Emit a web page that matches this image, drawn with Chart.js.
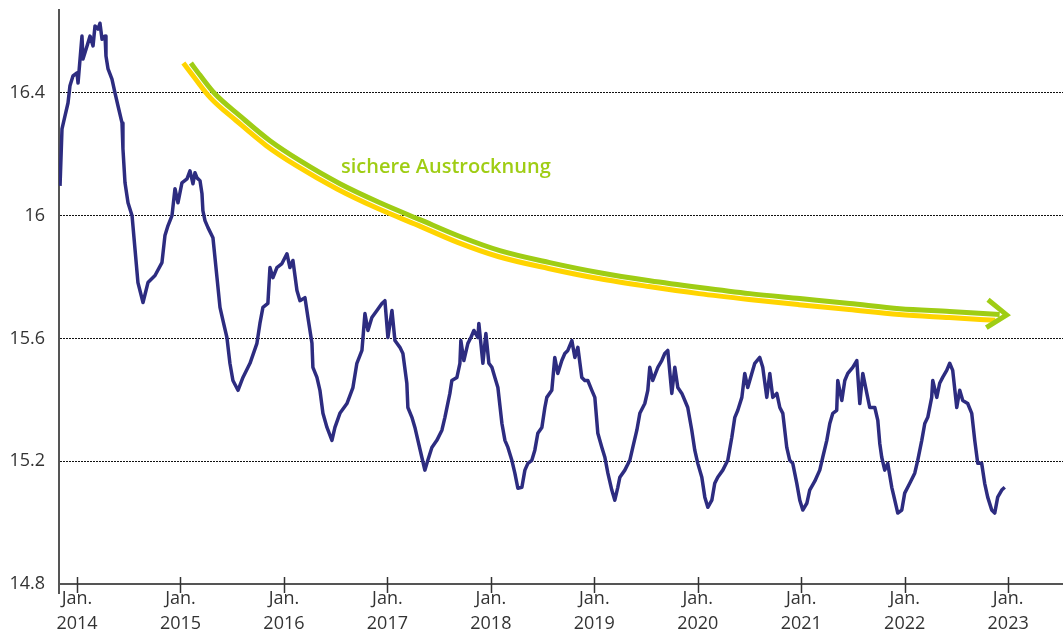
<!DOCTYPE html>
<html lang="de">
<head>
<meta charset="utf-8">
<title>Austrocknung</title>
<script src="https://cdn.jsdelivr.net/npm/chart.js@4"></script>
<style>
    html, body { margin: 0; padding: 0; background: #fff; }
    #wrap { width: 1063px; height: 642px; }
</style>
</head>
<body>
<div id="wrap"><canvas id="levelChart" width="1063" height="642"></canvas></div>
<script>
// x axis: decimal years
const xMin = 2013.826;
const xMax = 2023.53;
const yearTicks = [2014, 2015, 2016, 2017, 2018, 2019, 2020, 2021, 2022, 2023];
const yTicks = [14.8, 15.2, 15.6, 16, 16.4];

const levelYears = [
    2013.836, 2013.855, 2013.884, 2013.913, 2013.932, 2013.961, 2014.000, 2014.010, 2014.048, 2014.058,
    2014.097, 2014.126, 2014.155, 2014.174, 2014.203, 2014.222, 2014.242, 2014.271, 2014.280, 2014.300,
    2014.338, 2014.367, 2014.396, 2014.435, 2014.444, 2014.464, 2014.493, 2014.532, 2014.560, 2014.589,
    2014.638, 2014.686, 2014.754, 2014.821, 2014.850, 2014.879, 2014.918, 2014.947, 2014.976, 2015.014,
    2015.063, 2015.092, 2015.121, 2015.140, 2015.160, 2015.189, 2015.208, 2015.217, 2015.237, 2015.266,
    2015.314, 2015.353, 2015.382, 2015.411, 2015.449, 2015.478, 2015.507, 2015.556, 2015.604, 2015.672,
    2015.739, 2015.768, 2015.797, 2015.845, 2015.865, 2015.894, 2015.932, 2015.981, 2016.029, 2016.058,
    2016.087, 2016.126, 2016.155, 2016.203, 2016.232, 2016.271, 2016.280, 2016.319, 2016.348, 2016.377,
    2016.416, 2016.464, 2016.493, 2016.541, 2016.609, 2016.667, 2016.705, 2016.754, 2016.783, 2016.812,
    2016.850, 2016.899, 2016.947, 2016.976, 2017.005, 2017.044, 2017.073, 2017.121, 2017.150, 2017.188,
    2017.198, 2017.237, 2017.266, 2017.295, 2017.333, 2017.362, 2017.391, 2017.430, 2017.478, 2017.527,
    2017.556, 2017.604, 2017.623, 2017.672, 2017.701, 2017.710, 2017.739, 2017.778, 2017.807, 2017.836,
    2017.875, 2017.884, 2017.923, 2017.952, 2017.981, 2018.010, 2018.039, 2018.068, 2018.107, 2018.136,
    2018.165, 2018.203, 2018.232, 2018.261, 2018.300, 2018.329, 2018.358, 2018.396, 2018.425, 2018.454,
    2018.493, 2018.522, 2018.541, 2018.589, 2018.618, 2018.647, 2018.686, 2018.715, 2018.744, 2018.783,
    2018.812, 2018.841, 2018.879, 2018.908, 2018.937, 2018.976, 2019.005, 2019.034, 2019.073, 2019.102,
    2019.131, 2019.169, 2019.198, 2019.227, 2019.247, 2019.295, 2019.343, 2019.372, 2019.411, 2019.440,
    2019.488, 2019.517, 2019.536, 2019.565, 2019.614, 2019.652, 2019.681, 2019.710, 2019.749, 2019.778,
    2019.807, 2019.846, 2019.875, 2019.903, 2019.942, 2019.971, 2020.000, 2020.039, 2020.068, 2020.097,
    2020.136, 2020.164, 2020.193, 2020.242, 2020.290, 2020.329, 2020.358, 2020.387, 2020.426, 2020.454,
    2020.483, 2020.522, 2020.551, 2020.599, 2020.628, 2020.667, 2020.696, 2020.725, 2020.764, 2020.793,
    2020.822, 2020.860, 2020.889, 2020.918, 2020.957, 2020.986, 2021.015, 2021.054, 2021.082, 2021.131,
    2021.179, 2021.208, 2021.247, 2021.276, 2021.305, 2021.343, 2021.353, 2021.392, 2021.421, 2021.450,
    2021.498, 2021.537, 2021.566, 2021.595, 2021.634, 2021.662, 2021.711, 2021.740, 2021.759, 2021.778,
    2021.807, 2021.836, 2021.875, 2021.904, 2021.933, 2021.972, 2022.000, 2022.049, 2022.097, 2022.126,
    2022.165, 2022.194, 2022.223, 2022.261, 2022.271, 2022.310, 2022.338, 2022.367, 2022.406, 2022.435,
    2022.464, 2022.503, 2022.532, 2022.561, 2022.609, 2022.648, 2022.677, 2022.706, 2022.744, 2022.773,
    2022.802, 2022.841, 2022.870, 2022.899, 2022.938, 2022.967
];
const levelValues = [
    16.097, 16.283, 16.325, 16.367, 16.423, 16.455, 16.465, 16.432, 16.585, 16.510,
    16.553, 16.585, 16.553, 16.618, 16.608, 16.627, 16.575, 16.585, 16.520, 16.478,
    16.445, 16.400, 16.358, 16.302, 16.218, 16.107, 16.042, 16.000, 15.893, 15.782,
    15.717, 15.782, 15.805, 15.847, 15.935, 15.967, 16.000, 16.088, 16.042, 16.107,
    16.120, 16.146, 16.104, 16.140, 16.123, 16.114, 16.071, 16.016, 15.984, 15.961,
    15.928, 15.798, 15.701, 15.658, 15.603, 15.519, 15.463, 15.431, 15.473, 15.519,
    15.584, 15.649, 15.701, 15.714, 15.831, 15.798, 15.831, 15.844, 15.876, 15.831,
    15.854, 15.756, 15.723, 15.733, 15.668, 15.584, 15.506, 15.473, 15.431, 15.356,
    15.310, 15.268, 15.310, 15.356, 15.388, 15.440, 15.519, 15.561, 15.681, 15.626,
    15.668, 15.691, 15.714, 15.723, 15.603, 15.691, 15.593, 15.571, 15.551, 15.454,
    15.375, 15.343, 15.310, 15.268, 15.213, 15.171, 15.203, 15.245, 15.268, 15.301,
    15.343, 15.421, 15.463, 15.473, 15.519, 15.593, 15.528, 15.584, 15.603, 15.626,
    15.603, 15.649, 15.519, 15.616, 15.519, 15.506, 15.473, 15.440, 15.323, 15.268,
    15.245, 15.203, 15.161, 15.112, 15.115, 15.171, 15.193, 15.203, 15.236, 15.291,
    15.310, 15.375, 15.408, 15.431, 15.538, 15.486, 15.528, 15.551, 15.561, 15.593,
    15.538, 15.571, 15.473, 15.463, 15.463, 15.431, 15.408, 15.291, 15.245, 15.213,
    15.161, 15.106, 15.073, 15.115, 15.148, 15.171, 15.203, 15.245, 15.301, 15.356,
    15.388, 15.431, 15.506, 15.463, 15.506, 15.528, 15.551, 15.561, 15.421, 15.506,
    15.440, 15.421, 15.398, 15.375, 15.301, 15.236, 15.193, 15.148, 15.083, 15.050,
    15.073, 15.128, 15.148, 15.171, 15.203, 15.278, 15.343, 15.366, 15.408, 15.486,
    15.440, 15.486, 15.519, 15.538, 15.506, 15.408, 15.486, 15.408, 15.421, 15.375,
    15.356, 15.245, 15.203, 15.193, 15.128, 15.073, 15.041, 15.063, 15.106, 15.135,
    15.171, 15.213, 15.268, 15.323, 15.356, 15.366, 15.463, 15.398, 15.463, 15.486,
    15.506, 15.528, 15.388, 15.486, 15.421, 15.375, 15.375, 15.333, 15.258, 15.213,
    15.171, 15.193, 15.115, 15.073, 15.031, 15.041, 15.096, 15.128, 15.161, 15.203,
    15.268, 15.323, 15.343, 15.408, 15.463, 15.408, 15.454, 15.473, 15.496, 15.519,
    15.496, 15.375, 15.431, 15.398, 15.388, 15.356, 15.268, 15.193, 15.193, 15.128,
    15.083, 15.041, 15.031, 15.083, 15.106, 15.115
];

// trend arrow, green and yellow strokes
const greenYears = [2015.101, 2015.188, 2015.333, 2015.575, 2015.865, 2016.155, 2016.541, 2016.928, 2017.314, 2017.701,
    2018.087, 2018.570, 2019.053, 2019.536, 2020.019, 2020.503, 2020.986, 2021.469, 2021.952, 2022.435, 2022.918];
const greenValues = [16.497, 16.458, 16.397, 16.325, 16.244, 16.179, 16.104, 16.042, 15.987, 15.932,
    15.886, 15.847, 15.814, 15.788, 15.766, 15.746, 15.730, 15.714, 15.697, 15.688, 15.678];
const yellowYears = [2015.028, 2015.143, 2015.292, 2015.537, 2015.830, 2016.124, 2016.514, 2016.903, 2017.292, 2017.679,
    2018.070, 2018.557, 2019.042, 2019.527, 2020.011, 2020.495, 2020.979, 2021.462, 2021.947, 2022.431, 2022.875];
const yellowValues = [16.497, 16.446, 16.383, 16.310, 16.228, 16.162, 16.087, 16.024, 15.969, 15.913,
    15.867, 15.828, 15.795, 15.769, 15.746, 15.727, 15.710, 15.694, 15.678, 15.668, 15.659];

const arrowLabel = 'sichere Austrocknung';
const labelPos = { x: 2017.565, y: 16.158 };

const GREEN = '#9fcd14';
const YELLOW = '#ffd400';
const NAVY = '#2d2c80';
const FONT = '"Open Sans", "DejaVu Sans", sans-serif';

function toPoints(xs, ys) {
    return xs.map((x, i) => ({ x: x, y: ys[i] }));
}

// tick marks across the x axis, axis stub, arrow head and label
const decorPlugin = {
    id: 'decor',
    afterDraw(chart) {
        const { ctx, chartArea, scales } = chart;
        const xs = scales.x;
        ctx.save();

        // y axis runs a bit below the x axis
        ctx.strokeStyle = '#555';
        ctx.lineWidth = 2;
        ctx.beginPath();
        ctx.moveTo(chartArea.left, chartArea.bottom);
        ctx.lineTo(chartArea.left, chartArea.bottom + 10);
        ctx.stroke();

        // tick marks crossing the axis
        ctx.strokeStyle = '#333';
        ctx.lineWidth = 1.5;
        xs.ticks.forEach(t => {
            const px = Math.round(xs.getPixelForValue(t.value)) + 0.5;
            ctx.beginPath();
            ctx.moveTo(px, chartArea.bottom - 7);
            ctx.lineTo(px, chartArea.bottom + 9);
            ctx.stroke();
        });

        // arrow head on the green stroke
        const pts = chart.getDatasetMeta(1).data;
        const a = pts[pts.length - 2];
        const b = pts[pts.length - 1];
        const ang = Math.atan2(b.y - a.y, b.x - a.x);
        const tipX = b.x + Math.cos(ang) * 7;
        const tipY = b.y + Math.sin(ang) * 7;
        const len = 24;
        const spread = 0.62;
        ctx.strokeStyle = GREEN;
        ctx.lineWidth = 5;
        ctx.lineJoin = 'miter';
        ctx.lineCap = 'butt';
        ctx.beginPath();
        ctx.moveTo(tipX - Math.cos(ang - spread) * len, tipY - Math.sin(ang - spread) * len);
        ctx.lineTo(tipX, tipY);
        ctx.lineTo(tipX - Math.cos(ang + spread) * len, tipY - Math.sin(ang + spread) * len);
        ctx.stroke();

        // label
        ctx.fillStyle = GREEN;
        ctx.font = '600 20px ' + FONT;
        ctx.textAlign = 'center';
        ctx.textBaseline = 'middle';
        ctx.fillText(arrowLabel, xs.getPixelForValue(labelPos.x), scales.y.getPixelForValue(labelPos.y));
        ctx.restore();
    }
};

const ctx = document.getElementById('levelChart').getContext('2d');
new Chart(ctx, {
    type: 'line',
    data: {
        datasets: [{
            label: 'Messwert',
            data: toPoints(levelYears, levelValues),
            borderColor: NAVY,
            borderWidth: 3.5,
            pointRadius: 0,
            tension: 0,
            borderJoinStyle: 'round',
            order: 1
        }, {
            label: 'Trend',
            data: toPoints(greenYears, greenValues),
            borderColor: GREEN,
            borderWidth: 5,
            pointRadius: 0,
            cubicInterpolationMode: 'monotone',
            order: 2
        }, {
            label: 'Trend gelb',
            data: toPoints(yellowYears, yellowValues),
            borderColor: YELLOW,
            borderWidth: 5,
            pointRadius: 0,
            cubicInterpolationMode: 'monotone',
            order: 3
        }]
    },
    options: {
        responsive: false,
        animation: false,
        layout: { padding: { top: 10, right: 0, left: 0, bottom: 0 } },
        plugins: {
            legend: { display: false },
            tooltip: { enabled: false }
        },
        scales: {
            x: {
                type: 'linear',
                min: xMin,
                max: xMax,
                afterBuildTicks: scale => { scale.ticks = yearTicks.map(v => ({ value: v })); },
                afterFit: scale => { scale.height = 58; },
                grid: { display: false, drawTicks: false },
                border: { display: true, color: '#555', width: 2 },
                ticks: {
                    autoSkip: false,
                    maxRotation: 0,
                    padding: 3,
                    color: '#333',
                    font: { family: FONT, size: 18, lineHeight: 1.35 },
                    callback: value => ['Jan.', String(value)]
                }
            },
            y: {
                min: 14.8,
                max: 16.67,
                afterBuildTicks: scale => { scale.ticks = yTicks.map(v => ({ value: v })); },
                afterFit: scale => {
                    scale.width = 59;
                    scale.paddingTop = 0;
                    scale.paddingBottom = 0;
                },
                grid: { color: '#111', lineWidth: 1, drawTicks: false },
                border: { display: true, color: '#555', width: 2, dash: [2, 1] },
                ticks: {
                    padding: 14,
                    color: '#333',
                    font: { family: FONT, size: 18 },
                    callback: value => String(value)
                }
            }
        }
    },
    plugins: [decorPlugin]
});
</script>
</body>
</html>
